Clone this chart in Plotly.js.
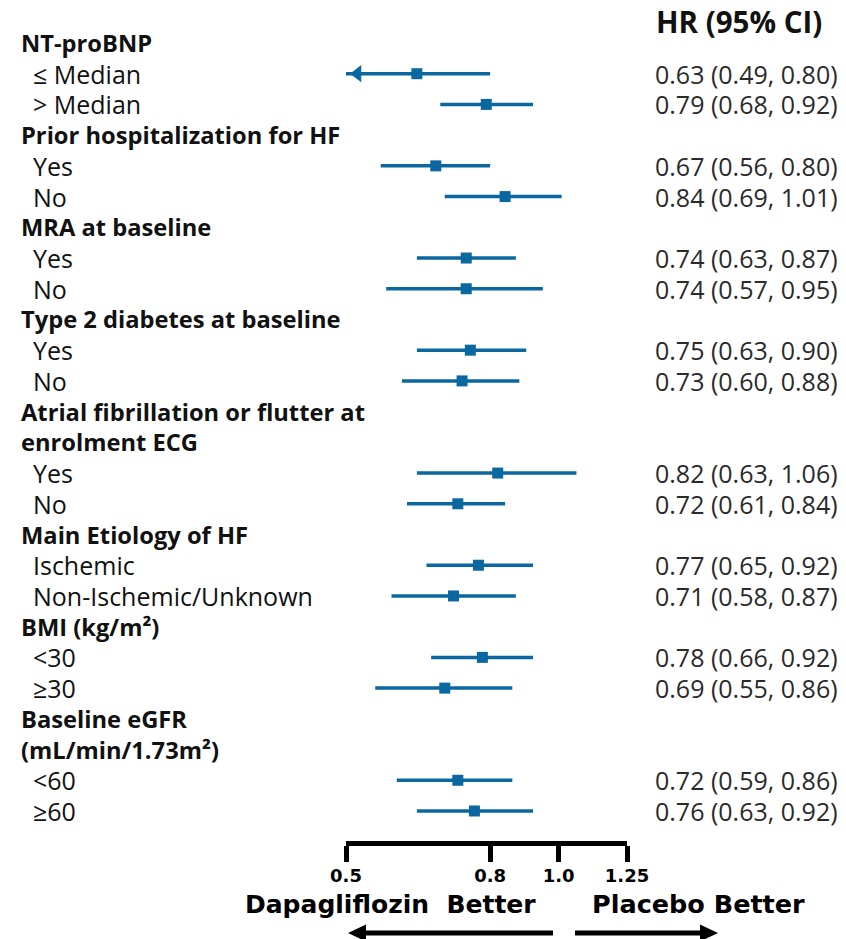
<!DOCTYPE html>
<html>
<head>
<meta charset="utf-8">
<script src="https://cdn.plot.ly/plotly-3.0.1.min.js"></script>
<style>
html,body{margin:0;padding:0;background:#fff;}
#chart{width:846px;height:939px;}
</style>
</head>
<body>
<div id="chart"></div>
<script>
// ---- data ----
const rowLabels = [
  'NT-proBNP', '≤ Median', '&gt; Median',
  'Prior hospitalization for HF', 'Yes', 'No',
  'MRA at baseline', 'Yes', 'No',
  'Type 2 diabetes at baseline', 'Yes', 'No',
  'Atrial fibrillation or flutter at', 'enrolment ECG', 'Yes', 'No',
  'Main Etiology of HF', 'Ischemic', 'Non-Ischemic/Unknown',
  'BMI (kg/m²)', '&lt;30', '≥30',
  'Baseline eGFR', '(mL/min/1.73m²)', '&lt;60', '≥60'
];
const isHeader = [1,0,0, 1,0,0, 1,0,0, 1,0,0, 1,1,0,0, 1,0,0, 1,0,0, 1,1,0,0];
const hr    = [null,0.63,0.79, null,0.67,0.84, null,0.74,0.74, null,0.75,0.73, null,null,0.82,0.72, null,0.77,0.71, null,0.78,0.69, null,null,0.72,0.76];
const ciLow = [null,0.49,0.68, null,0.56,0.69, null,0.63,0.57, null,0.63,0.60, null,null,0.63,0.61, null,0.65,0.58, null,0.66,0.55, null,null,0.59,0.63];
const ciHigh= [null,0.80,0.92, null,0.80,1.01, null,0.87,0.95, null,0.90,0.88, null,null,1.06,0.84, null,0.92,0.87, null,0.92,0.86, null,null,0.86,0.92];
const tickVals = [0.5, 0.8, 1.0, 1.25];
const tickText = ['0.5', '0.8', '1.0', '1.25'];
const xMin = 0.5, xMax = 1.25;
const headerText = 'HR (95% CI)';
const leftLabel = 'Dapagliflozin  Better';
const rightLabel = 'Placebo Better';

// ---- layout helpers ----
const W = 846, H = 939;
const mL = 346, mR = 219, mT = 30, mB = 98;
const pw = W - mL - mR, ph = H - mT - mB;
const px2paper = p => (p - mL) / pw;
const py2paper = p => (H - mB - p) / ph;
const blue = '#0b679f';

const ys = [], xs = [], ep = [], em = [];
const arrX = [], arrY = [];
// pixel offset of the arrow-head marker centre from the axis minimum
const arrowFactor = Math.pow(10, (11.5 / pw) * (Math.log10(xMax) - Math.log10(xMin)));
hr.forEach((v, i) => {
  if (v !== null) {
    xs.push(v); ys.push(i);
    ep.push(ciHigh[i] - v); em.push(v - ciLow[i]);
    if (ciLow[i] < xMin) { arrX.push(xMin * arrowFactor); arrY.push(i); }
  }
});

const trace = {
  type: 'scatter', mode: 'markers', x: xs, y: ys,
  marker: {symbol: 'square', size: 11, color: blue},
  error_x: {type: 'data', symmetric: false, array: ep, arrayminus: em,
            color: blue, thickness: 3.5, width: 0},
  hoverinfo: 'skip', showlegend: false
};
const arrowTrace = {
  type: 'scatter', mode: 'markers', x: arrX, y: arrY,
  marker: {symbol: 'triangle-left', size: 15, color: blue, line: {width: 0}},
  hoverinfo: 'skip', showlegend: false, cliponaxis: false
};

const annotations = [];
rowLabels.forEach((t, i) => {
  annotations.push({
    xref: 'paper', yref: 'y', x: px2paper(isHeader[i] ? 19 : 31), y: i,
    xanchor: 'left', yanchor: 'middle', showarrow: false,
    text: t,
    font: {family: 'Open Sans', size: isHeader[i] ? 23.7 : 25, color: '#111', weight: isHeader[i] ? 'bold' : 'normal'}
  });
  if (hr[i] !== null) {
    annotations.push({
      xref: 'paper', yref: 'y', x: px2paper(840), y: i,
      xanchor: 'right', yanchor: 'middle', showarrow: false,
      text: hr[i].toFixed(2) + ' (' + ciLow[i].toFixed(2) + ', ' + ciHigh[i].toFixed(2) + ')',
      font: {family: 'Open Sans', size: 25, color: '#2a2a2a'}
    });
  }
});
annotations.push({
  xref: 'paper', yref: 'paper', x: px2paper(739), y: py2paper(21),
  xanchor: 'center', yanchor: 'middle', showarrow: false, text: headerText,
  font: {family: 'Open Sans', size: 29.5, color: '#111', weight: 'bold'}
});
annotations.push({
  xref: 'paper', yref: 'paper', x: px2paper(390), y: py2paper(904),
  xanchor: 'center', yanchor: 'middle', showarrow: false, text: leftLabel,
  font: {family: 'DejaVu Sans', size: 25, color: '#000', weight: 'bold'}
});
annotations.push({
  xref: 'paper', yref: 'paper', x: px2paper(698), y: py2paper(904),
  xanchor: 'center', yanchor: 'middle', showarrow: false, text: rightLabel,
  font: {family: 'DejaVu Sans', size: 25.5, color: '#000', weight: 'bold'}
});

// direction arrows (shapes in paper coords)
const ay = py2paper(933);
function arrowShapes(tipPx, tailPx) {
  const dir = tailPx > tipPx ? 1 : -1;
  const headLen = 18, headHalf = 8.5;
  const baseX = tipPx + dir * headLen;
  return [
    {type: 'line', xref: 'paper', yref: 'paper',
     x0: px2paper(baseX), x1: px2paper(tailPx), y0: ay, y1: ay,
     line: {color: '#000', width: 5}},
    {type: 'path', xref: 'paper', yref: 'paper',
     path: 'M' + px2paper(tipPx) + ',' + ay +
           ' L' + px2paper(baseX) + ',' + py2paper(933 - headHalf) +
           ' L' + px2paper(baseX) + ',' + py2paper(933 + headHalf) + ' Z',
     fillcolor: '#000', line: {color: '#000', width: 0}}
  ];
}

const layout = {
  width: W, height: H,
  margin: {l: mL, r: mR, t: mT, b: mB, pad: 0},
  paper_bgcolor: '#fff', plot_bgcolor: '#fff',
  showlegend: false,
  xaxis: {
    type: 'log', range: [Math.log10(xMin), Math.log10(xMax)],
    tickvals: tickVals, ticktext: tickText,
    showgrid: false, zeroline: false,
    showline: true, linecolor: '#000', linewidth: 5,
    ticks: 'outside', ticklen: 16, tickwidth: 5, tickcolor: '#000',
    tickfont: {family: 'DejaVu Sans', size: 18, color: '#000', weight: 'bold'},
    ticklabelstandoff: -2,
    fixedrange: true
  },
  yaxis: {
    range: [25.977, -0.423], showgrid: false, zeroline: false,
    showline: false, showticklabels: false, ticks: '', fixedrange: true
  },
  shapes: [{
    type: 'line', xref: 'x', yref: 'paper', x0: 0, x1: 0,
    y0: py2paper(858), y1: py2paper(42),
    line: {color: '#000', width: 5}, layer: 'below'
  }].concat(arrowShapes(348, 553), arrowShapes(718, 575)),
  annotations: annotations
};

Plotly.newPlot('chart', [trace, arrowTrace], layout, {displayModeBar: false, staticPlot: true});
</script>
</body>
</html>
